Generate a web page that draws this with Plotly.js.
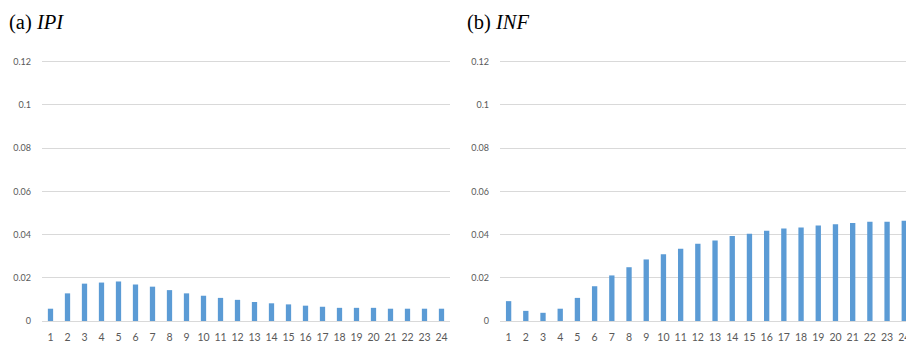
<!DOCTYPE html>
<html>
<head>
<meta charset="utf-8">
<script src="https://cdn.plot.ly/plotly-3.0.1.min.js"></script>
<style>html,body{margin:0;padding:0;background:#fff;}#chart{width:906px;height:343px;}</style>
</head>
<body>
<div id="chart"></div>
<script>
const horizons = ["1","2","3","4","5","6","7","8","9","10","11","12","13","14","15","16","17","18","19","20","21","22","23","24"];
const ipiValues = [0.0057,0.0128,0.0173,0.0178,0.0183,0.0169,0.0159,0.0143,0.0128,0.0117,0.0107,0.0098,0.0088,0.0082,0.0077,0.0071,0.0066,0.0061,0.0061,0.0061,0.0057,0.0057,0.0057,0.0057];
const infValues = [0.0092,0.0047,0.0038,0.0057,0.0107,0.0161,0.0211,0.0249,0.0285,0.0309,0.0334,0.0358,0.0373,0.0393,0.0404,0.0418,0.0428,0.0433,0.0442,0.0448,0.0454,0.0459,0.0459,0.0464];
const yTickVals = [0,0.02,0.04,0.06,0.08,0.1,0.12];
const yTickText = ["0","0.02","0.04","0.06","0.08","0.1","0.12"];

const barColor = "#5B9BD5";
const gridColor = "#D9D9D9";
const tickColor = "#595959";
const labelFont = "Lato, 'Open Sans', sans-serif";

const traces = [
  {type:"bar", x:horizons, y:ipiValues, xaxis:"x", yaxis:"y", marker:{color:barColor}, hoverinfo:"y"},
  {type:"bar", x:horizons, y:infValues, xaxis:"x2", yaxis:"y2", marker:{color:barColor}, hoverinfo:"y"}
];

function xAxis(domain, range){
  return {domain:domain, type:"category", range:range, showgrid:false, zeroline:false,
    showline:false, ticks:"", tickfont:{family:labelFont, size:10.5, color:tickColor},
    ticklabelstandoff:8, fixedrange:true};
}
function yAxis(anchor){
  return {domain:[0.0641,0.8262], range:[0,0.121], anchor:anchor, tickvals:yTickVals, ticktext:yTickText,
    showgrid:true, gridcolor:gridColor, gridwidth:1, zeroline:true, zerolinecolor:gridColor, zerolinewidth:1,
    showline:false, ticks:"", tickfont:{family:labelFont, size:9, color:tickColor},
    ticklabelstandoff:10, fixedrange:true};
}

const layout = {
  width:906, height:343,
  margin:{l:0,r:0,t:0,b:0},
  paper_bgcolor:"#fff", plot_bgcolor:"#fff",
  showlegend:false, bargap:0.69,
  xaxis: xAxis([42/906, 450/906], [-0.5, 23.5]),
  yaxis: yAxis("x"),
  xaxis2: xAxis([500/906, 1], [-0.5, 23.1]),
  yaxis2: yAxis("x2"),
  annotations:[
    {xref:"paper", yref:"paper", x:7/906, y:1-36/343, xanchor:"left", yanchor:"bottom", showarrow:false,
     text:"(a) <i>IPI</i>", font:{family:"'Liberation Serif', 'DejaVu Serif', serif", size:20.5, color:"#000"}},
    {xref:"paper", yref:"paper", x:465/906, y:1-36/343, xanchor:"left", yanchor:"bottom", showarrow:false,
     text:"(b) <i>INF</i>", font:{family:"'Liberation Serif', 'DejaVu Serif', serif", size:20.5, color:"#000"}}
  ]
};

Plotly.newPlot("chart", traces, layout, {displayModeBar:false, staticPlot:true});
</script>
</body>
</html>
